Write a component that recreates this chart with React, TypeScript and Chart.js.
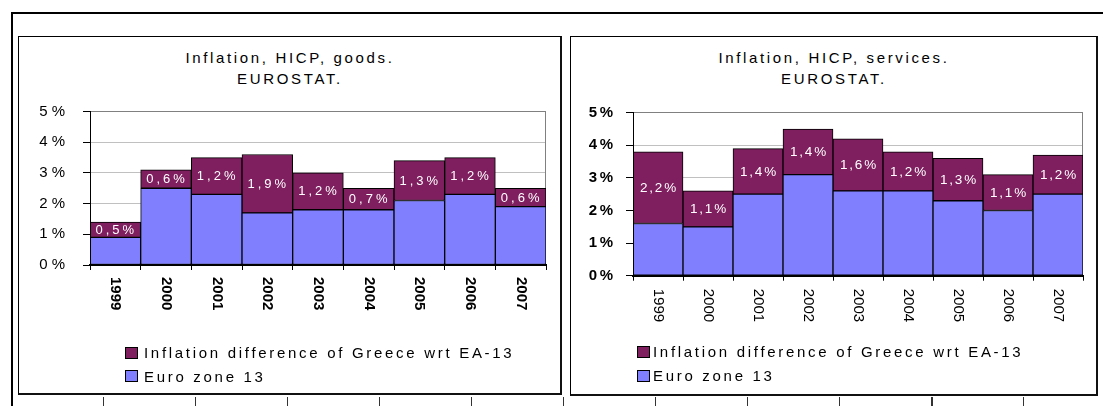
import React, { useEffect, useRef } from 'react';
import { Chart, registerables } from 'chart.js';

Chart.register(...registerables);

// ---------- data ----------
const years = ['1999', '2000', '2001', '2002', '2003', '2004', '2005', '2006', '2007'];
const goodsEuro = [0.9, 2.5, 2.3, 1.7, 1.8, 1.8, 2.1, 2.3, 1.9];
const goodsDiff = [0.5, 0.6, 1.2, 1.9, 1.2, 0.7, 1.3, 1.2, 0.6];
const servicesEuro = [1.6, 1.5, 2.5, 3.1, 2.6, 2.6, 2.3, 2.0, 2.5];
const servicesDiff = [2.2, 1.1, 1.4, 1.4, 1.6, 1.2, 1.3, 1.1, 1.2];
const yMin = 0;
const yMax = 5;
const yStep = 1;
const seriesDiffName = 'Inflation difference of Greece wrt EA-13';
const seriesEuroName = 'Euro zone 13';
const goodsTitle = ['Inflation, HICP, goods.', 'EUROSTAT.'];
const servicesTitle = ['Inflation, HICP, services.', 'EUROSTAT.'];

// ---------- styles ----------
const FONT = "'Liberation Sans', Arial, Helvetica, sans-serif";
const DIFF_COLOR = '#7f1f5f';
const EURO_COLOR = '#8080ff';

type PanelCfg = {
  box: { left: number; top: number; width: number; height: number };
  canvas: { left: number; top: number; width: number; height: number };
  yAxisWidth: number;
  pad: { top: number; right: number; bottom: number };
  xAxisHeight: number;
  yTickBold: boolean;
  yTickSpacing: string;
  yTickPadding: number;
  xLabelBold: boolean;
  xLabelOffset: number;
  dataFontSize: number;
  dataSpacing: string;
  titleTop: number;
  legend: { sqLeft: number; textLeft: number; rows: number[] };
};

const leftCfg: PanelCfg = {
  box: { left: 18, top: 36, width: 544, height: 359 },
  canvas: { left: 19, top: 37, width: 541, height: 356 },
  yAxisWidth: 71,
  pad: { top: 74.5, right: 14, bottom: 88 },
  xAxisHeight: 40,
  yTickBold: false,
  yTickSpacing: '4px',
  yTickPadding: 14,
  xLabelBold: true,
  xLabelOffset: 12,
  dataFontSize: 13,
  dataSpacing: '3px',
  titleTop: 46.5,
  legend: { sqLeft: 125, textLeft: 144, rows: [352.7, 376.3] },
};

const rightCfg: PanelCfg = {
  box: { left: 570, top: 36, width: 528, height: 360 },
  canvas: { left: 571, top: 37, width: 525, height: 357 },
  yAxisWidth: 62,
  pad: { top: 75.7, right: 13, bottom: 78.3 },
  xAxisHeight: 40,
  yTickBold: true,
  yTickSpacing: '2.5px',
  yTickPadding: 10.5,
  xLabelBold: false,
  xLabelOffset: 13,
  dataFontSize: 13.5,
  dataSpacing: '1.8px',
  titleTop: 47,
  legend: { sqLeft: 637, textLeft: 653, rows: [351.5, 375.5] },
};

const bottomTicks = [103, 195, 287, 379, 471, 563, 655, 747, 839, 931, 1023];

const fmtPct = (v: number) => v.toFixed(1).replace('.', ',') + '%';

function BarPanel({ cfg, euro, diff, title }: { cfg: PanelCfg; euro: number[]; diff: number[]; title: string[] }) {
  const ref = useRef<HTMLCanvasElement>(null);

  useEffect(() => {
    const canvas = ref.current!;
    const decor = {
      id: 'decor',
      beforeDraw(chart: any) {
        (chart.ctx as any).letterSpacing = cfg.yTickSpacing;
      },
      beforeDatasetsDraw(chart: any) {
        const { ctx, chartArea } = chart;
        ctx.save();
        (ctx as any).letterSpacing = '0px';
        ctx.strokeStyle = '#808080';
        ctx.lineWidth = 1;
        ctx.beginPath();
        const xr = Math.round(chartArea.right) - 0.5;
        ctx.moveTo(xr, chartArea.top);
        ctx.lineTo(xr, chartArea.bottom);
        ctx.stroke();
        ctx.restore();
      },
      afterDraw(chart: any) {
        const { ctx, chartArea } = chart;
        ctx.save();
        // category labels, rotated clockwise
        (ctx as any).letterSpacing = '0px';
        ctx.fillStyle = '#000';
        ctx.font = `${cfg.xLabelBold ? 'bold ' : ''}15px ${FONT}`;
        ctx.textAlign = 'left';
        ctx.textBaseline = 'middle';
        const xs = chart.scales.x;
        (chart.data.labels as string[]).forEach((lab: string, i: number) => {
          const x = xs.getPixelForValue(i);
          ctx.save();
          ctx.translate(x, chartArea.bottom + cfg.xLabelOffset);
          ctx.rotate(Math.PI / 2);
          ctx.fillText(lab, 0, 0);
          ctx.restore();
        });
        // value labels in the difference segments
        (ctx as any).letterSpacing = cfg.dataSpacing;
        ctx.font = `${cfg.dataFontSize}px ${FONT}`;
        ctx.fillStyle = '#ffffff';
        ctx.textAlign = 'center';
        ctx.textBaseline = 'middle';
        const meta = chart.getDatasetMeta(1);
        meta.data.forEach((el: any, i: number) => {
          const p = el.getProps(['x', 'y', 'base'], true);
          const cy = (p.y + p.base) / 2;
          ctx.fillText(fmtPct(chart.data.datasets[1].data[i] as number), p.x + 1, cy + 0.5);
        });
        ctx.restore();
        (ctx as any).letterSpacing = '0px';
      },
    };

    const chart = new Chart(canvas, {
      type: 'bar',
      data: {
        labels: years,
        datasets: [
          {
            label: seriesEuroName,
            data: euro,
            backgroundColor: EURO_COLOR,
            borderColor: '#000',
            borderWidth: 1,
            borderSkipped: false,
            categoryPercentage: 1,
            barPercentage: 1,
          },
          {
            label: seriesDiffName,
            data: diff,
            backgroundColor: DIFF_COLOR,
            borderColor: '#000',
            borderWidth: 1,
            borderSkipped: false,
            categoryPercentage: 1,
            barPercentage: 1,
          },
        ],
      },
      options: {
        animation: false,
        responsive: false,
        devicePixelRatio: 1,
        layout: { padding: { left: 0, top: cfg.pad.top, right: cfg.pad.right, bottom: cfg.pad.bottom } },
        plugins: {
          legend: { display: false },
          title: { display: false },
          tooltip: { enabled: false },
        },
        scales: {
          x: {
            stacked: true,
            grid: {
              display: true,
              drawOnChartArea: false,
              drawTicks: true,
              tickLength: 5,
              tickColor: '#000',
              offset: true,
            },
            border: { display: true, color: '#000', width: 2, z: 1 } as any,
            ticks: { display: false },
            afterFit: (s: any) => {
              s.height = cfg.xAxisHeight;
            },
          },
          y: {
            stacked: true,
            min: yMin,
            max: yMax,
            ticks: {
              stepSize: yStep,
              callback: (v: any) => `${v}%`,
              color: '#000',
              padding: cfg.yTickPadding,
              font: { family: FONT, size: 15, weight: cfg.yTickBold ? 'bold' : 'normal' },
            },
            grid: {
              color: (c: any) => (c.tick && c.tick.value === yMax ? '#808080' : '#c0c0c0'),
              tickColor: '#000',
              tickLength: 7,
              lineWidth: 1,
            },
            border: { display: true, color: '#000', width: 1, z: 1 } as any,
            afterFit: (s: any) => {
              s.width = cfg.yAxisWidth;
            },
          },
        },
      },
      plugins: [decor],
    });
    return () => chart.destroy();
  }, []);

  const textStyle: React.CSSProperties = {
    position: 'absolute',
    fontSize: 15,
    lineHeight: '15px',
    letterSpacing: '2.7px',
    color: '#000',
    whiteSpace: 'nowrap',
  };

  return (
    <>
      <div
        style={{
          position: 'absolute',
          left: cfg.box.left,
          top: cfg.box.top,
          width: cfg.box.width,
          height: cfg.box.height,
          boxSizing: 'border-box',
          borderLeft: '1px solid #000',
          borderTop: '1px solid #000',
          borderRight: '2px solid #111',
          borderBottom: '2px solid #111',
          background: '#fff',
        }}
      />
      <div
        style={{
          position: 'absolute',
          left: cfg.box.left,
          top: cfg.titleTop,
          width: cfg.box.width,
          textAlign: 'center',
          fontSize: 15,
          lineHeight: '21px',
          letterSpacing: '2.65px',
          color: '#000',
        }}
      >
        {title.map((t, i) => (
          <div key={i}>{t}</div>
        ))}
      </div>
      <canvas
        ref={ref}
        width={cfg.canvas.width}
        height={cfg.canvas.height}
        style={{
          position: 'absolute',
          left: cfg.canvas.left,
          top: cfg.canvas.top,
          width: cfg.canvas.width,
          height: cfg.canvas.height,
        }}
      />
      {[
        { name: seriesDiffName, color: DIFF_COLOR },
        { name: seriesEuroName, color: EURO_COLOR },
      ].map((item, i) => (
        <React.Fragment key={item.name}>
          <div
            style={{
              position: 'absolute',
              left: cfg.legend.sqLeft,
              top: cfg.legend.rows[i] - 6,
              width: 13,
              height: 12,
              boxSizing: 'border-box',
              border: '1px solid #000',
              background: item.color,
            }}
          />
          <div style={{ ...textStyle, left: cfg.legend.textLeft, top: cfg.legend.rows[i] - 7.4 }}>{item.name}</div>
        </React.Fragment>
      ))}
    </>
  );
}

export default function App() {
  return (
    <div
      style={{
        position: 'absolute',
        left: 0,
        top: 0,
        width: 1103,
        height: 406,
        overflow: 'hidden',
        background: '#fff',
        fontFamily: FONT,
      }}
    >
      <div style={{ position: 'absolute', left: 11, top: 12, width: 1092, height: 2, background: '#000' }} />
      <div style={{ position: 'absolute', left: 11, top: 12, width: 2, height: 394, background: '#000' }} />
      {bottomTicks.map((x, i) => (
        <div
          key={i}
          style={{
            position: 'absolute',
            left: x,
            top: 397,
            width: x === 931 ? 2 : 1,
            height: 9,
            background: '#333',
          }}
        />
      ))}
      <BarPanel cfg={leftCfg} euro={goodsEuro} diff={goodsDiff} title={goodsTitle} />
      <BarPanel cfg={rightCfg} euro={servicesEuro} diff={servicesDiff} title={servicesTitle} />
    </div>
  );
}
